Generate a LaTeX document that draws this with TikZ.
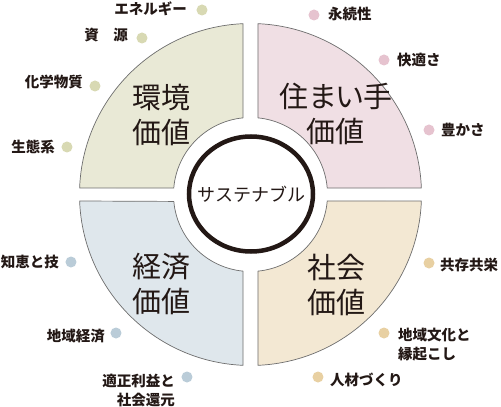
\documentclass[tikz,border=0pt]{standalone}
\usepackage{fontspec}
\newfontfamily\jp{Noto Sans CJK JP}
\newfontfamily\jpp{Noto Sans CJK JP}[RawFeature=+palt]
\definecolor{gfill}{HTML}{E9E9D6}
\definecolor{pfill}{HTML}{F0DFE4}
\definecolor{bfill}{HTML}{DFE7EC}
\definecolor{yfill}{HTML}{F3E8D3}
\definecolor{gdot}{HTML}{D8D9B3}
\definecolor{pdot}{HTML}{E6C3CF}
\definecolor{bdot}{HTML}{BACCD8}
\definecolor{ydot}{HTML}{E8D0A2}
\definecolor{ink}{HTML}{231815}
\definecolor{edge}{HTML}{6E6E6E}
\tikzset{
  sector/.style={draw=edge, line width=0.7pt},
  big/.style={inner sep=0pt, align=center, text=ink, font=\jp\fontsize{29}{35}\selectfont},
  lbl/.style={inner sep=0pt, text=ink, font=\jp\bfseries\fontsize{14.5}{19}\selectfont},
  dotg/.style={circle, fill=gdot, minimum size=11pt, inner sep=0pt},
  dotp/.style={circle, fill=pdot, minimum size=11pt, inner sep=0pt},
  dotb/.style={circle, fill=bdot, minimum size=11pt, inner sep=0pt},
  doty/.style={circle, fill=ydot, minimum size=11pt, inner sep=0pt},
}
\begin{document}
\begin{tikzpicture}[x=1pt,y=1pt]
\useasboundingbox (-250.5,-212.5) rectangle (250.5,194.5);
% sectors
\fill[white] (-250.5,-212.5) rectangle (250.5,194.5);
\draw[sector, fill=gfill] (92.51:171) arc[start angle=92.51, end angle=177.82, radius=171]
  -- (175.16:77) arc[start angle=175.16, end angle=95.59, radius=77] -- cycle;
\draw[sector, fill=pfill] (87.49:171) arc[start angle=87.49, end angle=2.18, radius=171]
  -- (4.84:77) arc[start angle=4.84, end angle=84.41, radius=77] -- cycle;
\draw[sector, fill=bfill] (182.18:171) arc[start angle=182.18, end angle=267.49, radius=171]
  -- (264.41:77) arc[start angle=264.41, end angle=185.16, radius=77] -- cycle;
\draw[sector, fill=yfill] (272.51:171) arc[start angle=272.51, end angle=357.82, radius=171]
  -- (355.16:77) arc[start angle=355.16, end angle=275.59, radius=77] -- cycle;
% center
\draw[ink, line width=4.5pt, fill=white] (0.5,0.5) ellipse [x radius=62, y radius=57.5];
\node[inner sep=0pt, text=ink, font=\jp\fontsize{18}{20}\selectfont] (center) at (1.2,0.5) {サステナブル};
% sector titles
\node[big] (env) at (-88.5,80) {環境\\価値};
\node[big, font=\jpp\fontsize{29}{35}\selectfont] (liv) at (85.5,81) {住まい手\\価値};
\node[big] (eco) at (-88.5,-89) {経済\\価値};
\node[big] (soc) at (86.5,-90) {社会\\価値};
% top-left labels
\node[dotg] (d1) at (-48.5,184.5) {};
\node[lbl, anchor=east] (l1) at (-63.5,185.5) {エネルギー};
\node[dotg] (d2) at (-108.5,156.5) {};
\node[lbl, anchor=east] (l2) at (-122.5,159.5) {資　源};
\node[dotg] (d3) at (-155.5,108.5) {};
\node[lbl, anchor=east] (l3) at (-167.5,112.5) {化学物質};
\node[dotg] (d4) at (-183.5,47.5) {};
\node[lbl, anchor=east] (l4) at (-195.5,47.5) {生態系};
% top-right labels
\node[dotp] (d5) at (63.5,179.5) {};
\node[lbl, anchor=west] (l5) at (77.5,180.5) {永続性};
\node[dotp] (d6) at (133.5,134.5) {};
\node[lbl, anchor=west] (l6) at (146.5,134.5) {快適さ};
\node[dotp] (d7) at (178.5,64.5) {};
\node[lbl, anchor=west] (l7) at (190.5,64.5) {豊かさ};
% bottom-left labels
\node[dotb] (d8) at (-179.5,-67.5) {};
\node[lbl, anchor=east] (l8) at (-191.5,-67.5) {知恵と技};
\node[dotb] (d9) at (-134.5,-138.5) {};
\node[lbl, anchor=east] (l9) at (-145.5,-141.5) {地域経済};
\node[dotb] (d10) at (-63.5,-182.5) {};
\node[lbl, anchor=east, align=right] (l10) at (-75.5,-196) {適正利益と\\社会還元};
% bottom-right labels
\node[doty] (d11) at (178.5,-68.5) {};
\node[lbl, anchor=west] (l11) at (189.5,-70.5) {共存共栄};
\node[doty] (d12) at (133.5,-138.5) {};
\node[lbl, anchor=west, align=left] (l12) at (147.5,-150) {地域文化と\\縁起こし};
\node[doty] (d13) at (67.5,-182.5) {};
\node[lbl, anchor=west] (l13) at (79.5,-185.5) {人材づくり};
\end{tikzpicture}
\end{document}
